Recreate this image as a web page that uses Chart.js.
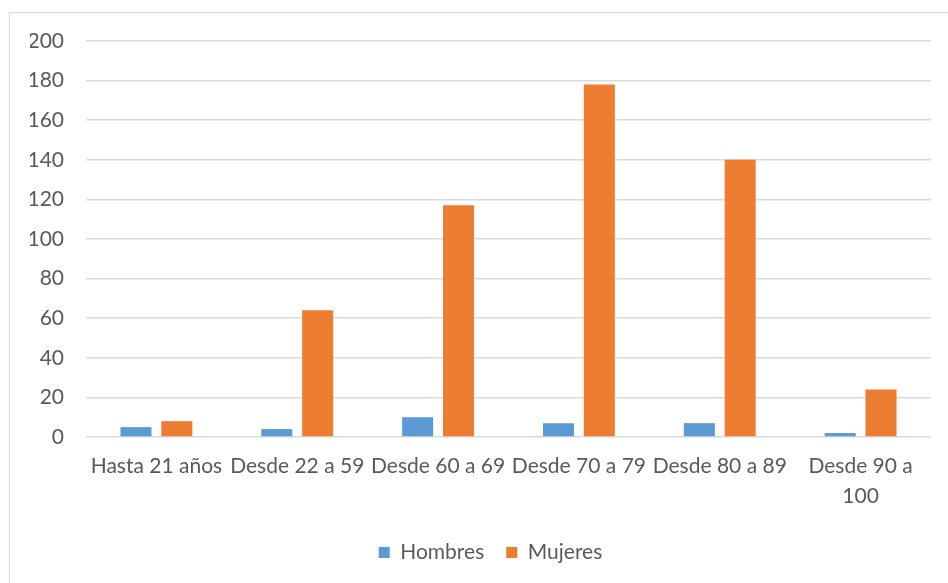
<!DOCTYPE html>
<html>
<head>
<meta charset="utf-8">
<script src="https://cdn.jsdelivr.net/npm/chart.js@4.4.1/dist/chart.umd.min.js"></script>
<style>
  html, body { margin: 0; padding: 0; background: #fff; }
  #wrap { position: relative; width: 948px; height: 583px; overflow: hidden; }
  #frame {
    position: absolute; left: 9px; top: 12px; width: 960px; height: 600px;
    border: 1px solid #d9d9d9; box-sizing: border-box;
  }
  #barChart { position: absolute; left: 0; top: 0; }
</style>
</head>
<body>
<div id="wrap">
  <div id="frame"></div>
  <canvas id="barChart" width="948" height="583"></canvas>
</div>
<script>
// Age groups and counts per sex
var categories = ['Hasta 21 años', 'Desde 22 a 59', 'Desde 60 a 69', 'Desde 70 a 79', 'Desde 80 a 89', ['Desde 90 a', '100']];
var hombres = [5, 4, 10, 7, 7, 2];
var mujeres = [8, 64, 117, 178, 140, 24];
var yTicks = [0, 20, 40, 60, 80, 100, 120, 140, 160, 180, 200];

// nudge the legend a bit to the right so it sits under the plot centre
var legendShift = {
  id: 'legendShift',
  afterLayout: function(chart) {
    if (chart.legend) {
      chart.legend.left += 10;
      chart.legend.right += 10;
    }
  }
};

document.addEventListener('DOMContentLoaded', function() {
  var textColor = '#595959';
  var ctx = document.getElementById('barChart').getContext('2d');
  var barChart = new Chart(ctx, {
    type: 'bar',
    data: {
      labels: categories,
      datasets: [{
        label: 'Hombres',
        data: hombres,
        backgroundColor: '#5B9BD5',
        borderWidth: 0
      }, {
        label: 'Mujeres',
        data: mujeres,
        backgroundColor: '#ED7D31',
        borderWidth: 0
      }]
    },
    options: {
      responsive: false,
      animation: false,
      categoryPercentage: 0.58,
      barPercentage: 0.76,
      layout: {
        padding: { left: 30, right: 17, top: 41, bottom: 10 }
      },
      scales: {
        x: {
          grid: { display: false, drawTicks: false },
          border: { display: false },
          afterFit: function(scale) { scale.height = 83; },
          ticks: {
            color: textColor,
            padding: 15,
            maxRotation: 0,
            autoSkip: false,
            font: { family: 'Lato', size: 21, lineHeight: 1.4 }
          }
        },
        y: {
          min: 0,
          max: 200,
          afterFit: function(scale) { scale.width = 56; },
          afterBuildTicks: function(scale) {
            scale.ticks = yTicks.map(function(v) { return { value: v }; });
          },
          grid: { color: '#d9d9d9', lineWidth: 1.5, drawTicks: false },
          border: { display: false },
          ticks: {
            color: textColor,
            padding: 22,
            font: { family: 'Lato', size: 21 }
          }
        }
      },
      plugins: {
        legend: {
          position: 'bottom',
          labels: {
            color: textColor,
            boxWidth: 11,
            boxHeight: 11,
            padding: 22,
            font: { family: 'Lato', size: 21 }
          }
        },
        tooltip: { enabled: false }
      }
    },
    plugins: [legendShift]
  });
});
</script>
</body>
</html>
